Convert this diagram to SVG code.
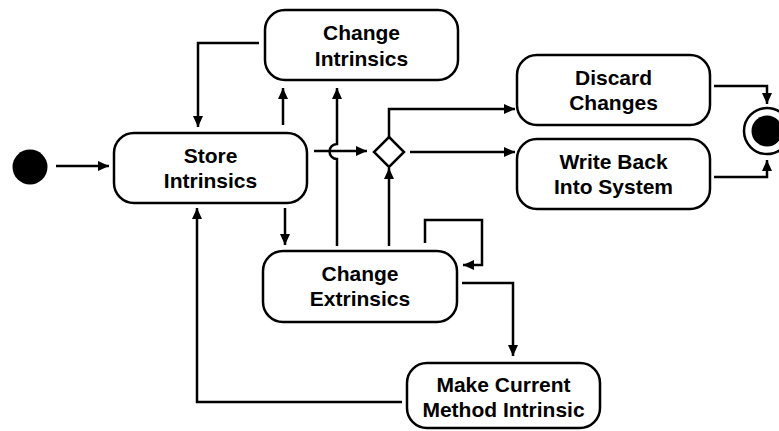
<svg xmlns="http://www.w3.org/2000/svg" width="779" height="431" viewBox="0 0 779 431">
<defs>
<marker id="ah" markerUnits="userSpaceOnUse" markerWidth="12" markerHeight="10" refX="11" refY="5" orient="auto">
<path d="M0,0 L11,5 L0,10 z" fill="#000"/>
</marker>
<style>
.box{fill:#fff;stroke:#000;stroke-width:2.5}
.t{font-family:"Liberation Sans",Arial,sans-serif;font-weight:bold;font-size:21px;text-anchor:middle;fill:#000}
.c{fill:none;stroke:#000;stroke-width:2.5;marker-end:url(#ah)}
</style>
</defs>
<rect width="779" height="431" fill="#fff"/>
<g id="connectors">
<path class="c" d="M56,166 H109"/>
<path class="c" d="M259,43 H198 V127"/>
<path class="c" d="M283,125 V88"/>
<path class="c" d="M337,246 V159 A7.5,7.5 0 0 1 337,144 V88"/>
<path class="c" d="M314,151 H367"/>
<path class="c" d="M389,246 V168"/>
<path class="c" d="M389,137 V109 H515"/>
<path class="c" d="M410,152 H515"/>
<path class="c" d="M714,86 H767 V104"/>
<path class="c" d="M714,177 H767 V160"/>
<path class="c" d="M285,208 V245"/>
<path class="c" d="M425,243 V220 H482 V265 H463"/>
<path class="c" d="M462,283 H513 V356"/>
<path class="c" d="M402,402 H197 V208"/>
</g>
<g id="initial"><circle cx="30" cy="167" r="17.5" fill="#000"/></g>
<g id="store"><rect class="box" x="114" y="133" width="193" height="70" rx="20"/><text class="t" x="210.5" y="163">Store</text><text class="t" x="210.5" y="188">Intrinsics</text></g>
<g id="changeIntrinsics"><rect class="box" x="265" y="10" width="193" height="70" rx="20"/><text class="t" x="361.5" y="40">Change</text><text class="t" x="361.5" y="66">Intrinsics</text></g>
<g id="decision"><polygon class="box" points="389,137 404,152 389,167 374,152"/></g>
<g id="discard"><rect class="box" x="517" y="55" width="193" height="70" rx="20"/><text class="t" x="613.5" y="85">Discard</text><text class="t" x="613.5" y="110">Changes</text></g>
<g id="writeBack"><rect class="box" x="517" y="139" width="193" height="70" rx="20"/><text class="t" x="613.5" y="169">Write Back</text><text class="t" x="613.5" y="194">Into System</text></g>
<g id="final"><circle cx="767" cy="131" r="23" fill="#fff" stroke="#000" stroke-width="2.5"/><circle cx="767" cy="131" r="15.5" fill="#000"/></g>
<g id="changeExtrinsics"><rect class="box" x="263" y="251" width="194" height="71" rx="20"/><text class="t" x="360" y="281">Change</text><text class="t" x="360" y="306">Extrinsics</text></g>
<g id="makeCurrent"><rect class="box" x="407" y="363" width="193" height="65" rx="20"/><text class="t" x="503.5" y="392">Make Current</text><text class="t" x="503.5" y="417">Method Intrinsic</text></g>
</svg>
